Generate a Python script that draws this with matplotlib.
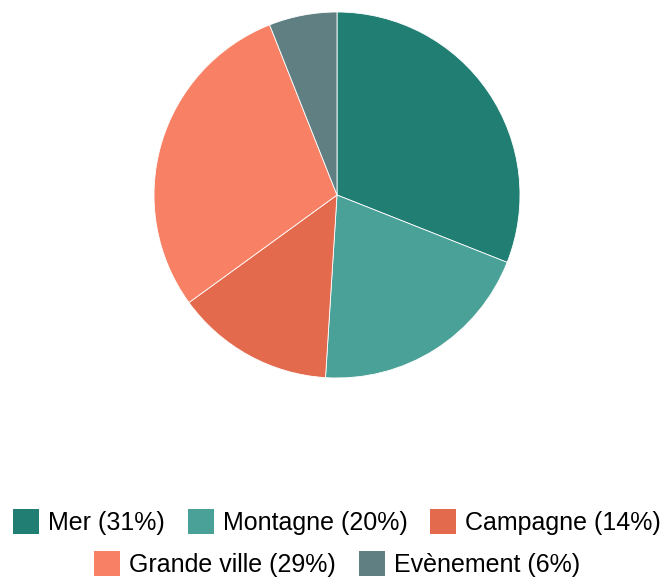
import matplotlib
matplotlib.use("Agg")
import matplotlib.pyplot as plt
from matplotlib.patches import Patch

labels = ["Mer", "Montagne", "Campagne", "Grande ville", "Evènement"]
values = [31, 20, 14, 29, 6]
colors = ["#217e73", "#4aa198", "#e46a4d", "#f88165", "#5f7f82"]

plt.rcParams['font.family'] = ['Liberation Sans', 'DejaVu Sans']

fig = plt.figure(figsize=(6.66, 5.81), dpi=100)
W, H = 666, 581
cx, cy, r = 337, 195, 183
ax = fig.add_axes([(cx - r) / W, (H - cy - r) / H, 2 * r / W, 2 * r / H])
ax.pie(values, colors=colors, startangle=90, counterclock=False,
       wedgeprops=dict(edgecolor="white", linewidth=0.6))
ax.set_xlim(-1, 1)
ax.set_ylim(-1, 1)
ax.set_aspect('equal')
ax.axis('off')

handles = [Patch(facecolor=c, edgecolor='none') for c in colors]
texts = [f"{l} ({v}%)" for l, v in zip(labels, values)]

fs = 18
common = dict(loc='center', frameon=False, fontsize=fs, handlelength=1.04,
              handleheight=1.16, handletextpad=0.36, columnspacing=0.92,
              borderpad=0, borderaxespad=0)
fig.legend(handles[:3], texts[:3], ncol=3,
           bbox_to_anchor=(337 / W, 1 - 522 / H), **common)
fig.legend(handles[3:], texts[3:], ncol=2,
           bbox_to_anchor=(337 / W, 1 - 564 / H), **common)

fig.savefig("out.png", dpi=100)
